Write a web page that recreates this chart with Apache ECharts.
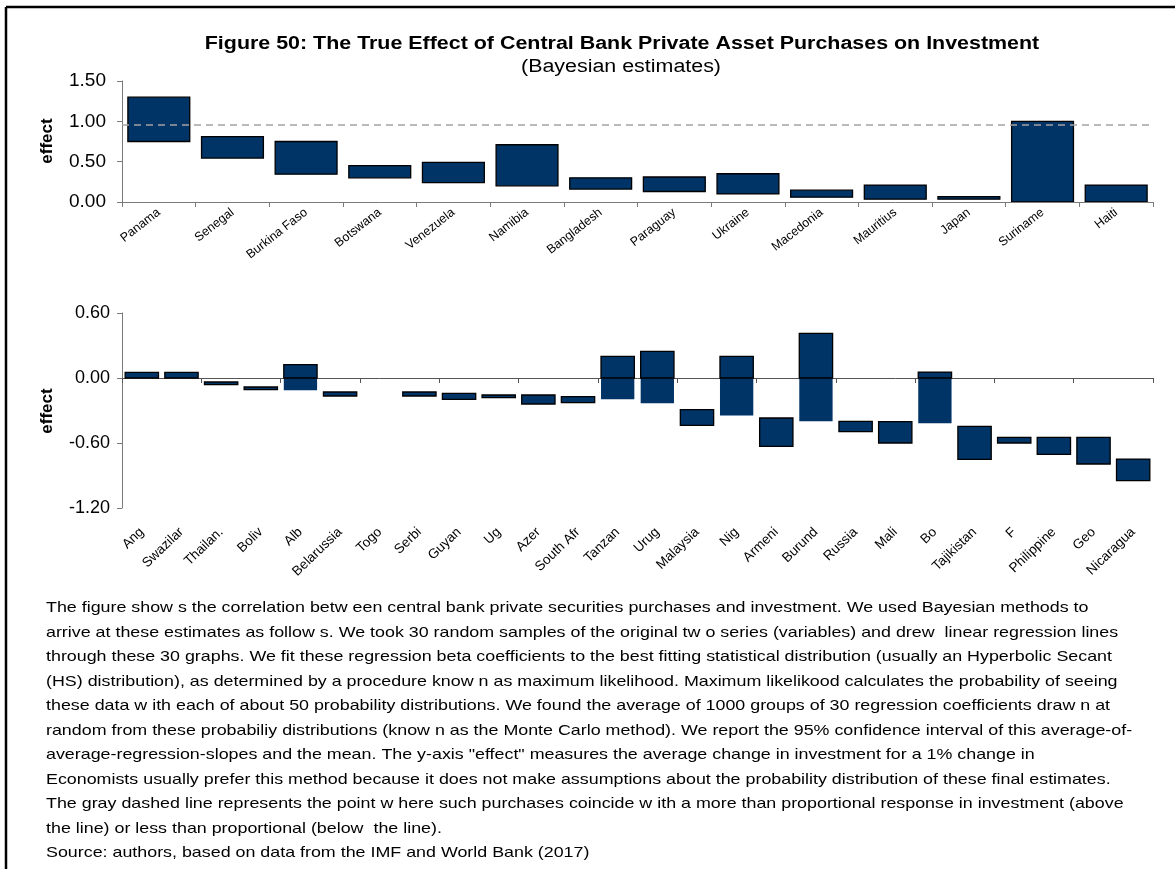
<!DOCTYPE html>
<html>
<head>
<meta charset="utf-8">
<script src="https://cdn.jsdelivr.net/npm/echarts@6/dist/echarts.min.js"></script>
<style>
  html, body { margin: 0; padding: 0; background: #fff; }
  #chart { width: 1175px; height: 869px; }
</style>
</head>
<body>
<div id="chart"></div>
<script>
// Upper panel: 95% interval (low, high) of the effect per country
const topCountries = ['Panama', 'Senegal', 'Burkina Faso', 'Botswana', 'Venezuela', 'Namibia', 'Bangladesh',
  'Paraguay', 'Ukraine', 'Macedonia', 'Mauritius', 'Japan', 'Suriname', 'Haiti'];
const topLow  = [0.75, 0.545, 0.345, 0.30, 0.24, 0.20, 0.16, 0.13, 0.10, 0.06, 0.035, 0.035, 0.00, 0.00];
const topHigh = [1.30, 0.81, 0.75, 0.45, 0.49, 0.71, 0.30, 0.31, 0.35, 0.146, 0.21, 0.067, 1.00, 0.21];
const topTicks = [0, 0.5, 1.0, 1.5];

// Lower panel
const bottomCountries = ['Ang', 'Swazilar', 'Thailan.', 'Boliv', 'Alb', 'Belarussia', 'Togo', 'Serbi', 'Guyan',
  'Ug', 'Azer', 'South Afr', 'Tanzan', 'Urug', 'Malaysia', 'Nig', 'Armeni', 'Burund', 'Russia', 'Mali', 'Bo',
  'Tajikistan', 'F', 'Philippine', 'Geo', 'Nicaragua'];
const bottomLow  = [0, 0, -0.062, -0.108, -0.114, -0.166, null, -0.166, -0.197, -0.182, -0.240, -0.228, -0.197,
  -0.234, -0.437, -0.345, -0.631, -0.40, -0.495, -0.60, -0.418, -0.751, -0.60, -0.705, -0.794, -0.948];
const bottomHigh = [0.052, 0.052, -0.037, -0.083, 0.123, -0.129, null, -0.129, -0.142, -0.157, -0.157, -0.172, 0.20,
  0.246, -0.292, 0.20, -0.369, 0.412, -0.40, -0.403, 0.055, -0.446, -0.548, -0.548, -0.548, -0.748];
const bottomTicks = [-1.2, -0.6, 0, 0.6];

// Proportional-response reference level
const proportionalLine = 0.96;

const titleText = 'Figure 50: The True Effect of Central Bank Private Asset Purchases on Investment';
const subtitleText = '(Bayesian estimates)';
const noteLines = [
  'The figure show s the correlation betw een central bank private securities purchases and investment. We used Bayesian methods to',
  'arrive at these estimates as follow s. We took 30 random samples of the original tw o series (variables) and drew  linear regression lines',
  'through these 30 graphs. We fit these regression beta coefficients to the best fitting statistical distribution (usually an Hyperbolic Secant',
  '(HS) distribution), as determined by a procedure know n as maximum likelihood. Maximum likelikood calculates the probability of seeing',
  'these data w ith each of about 50 probability distributions. We found the average of 1000 groups of 30 regression coefficients draw n at',
  'random from these probabiliy distributions (know n as the Monte Carlo method). We report the 95% confidence interval of this average-of-',
  'average-regression-slopes and the mean. The y-axis "effect" measures the average change in investment for a 1% change in',
  'Economists usually prefer this method because it does not make assumptions about the probability distribution of these final estimates.',
  'The gray dashed line represents the point w here such purchases coincide w ith a more than proportional response in investment (above',
  'the line) or less than proportional (below  the line).',
  'Source: authors, based on data from the IMF and World Bank (2017)'
];

const FONT = '"Liberation Sans", Arial, sans-serif';
const BAR = '#003366';
const WIDE = 1.19;   // the figure's lettering is set slightly wide

// Floating bars: the part above zero is outlined, the part below zero is plain fill
function renderRange(params, api) {
  const i = api.value(0), lo = api.value(1), hi = api.value(2);
  const band = api.size([1, 0])[0];
  const w = band * 0.84;
  const cx = api.coord([i, 0])[0];
  const rect = (a, b, outlined) => {
    const pTop = api.coord([i, b]);
    const pBot = api.coord([i, a]);
    return {
      type: 'rect',
      shape: { x: cx - w / 2, y: pTop[1], width: w, height: Math.max(pBot[1] - pTop[1], 0.5) },
      style: { fill: BAR, stroke: outlined ? '#000' : null, lineWidth: outlined ? 1.3 : 0 }
    };
  };
  const children = [];
  if (lo < 0 && hi > 0) {
    children.push(rect(lo, 0, false));
    children.push(rect(0, hi, true));
  } else {
    children.push(rect(lo, hi, true));
  }
  return { type: 'group', children };
}

function rangeData(lows, highs) {
  const out = [];
  lows.forEach((lo, i) => { if (lo !== null && highs[i] !== null) out.push([i, lo, highs[i]]); });
  return out;
}

const valueAxisBase = {
  type: 'value',
  splitLine: { show: false },
  axisLine: { show: true, lineStyle: { color: '#7a7a7a', width: 1 } },
  axisTick: { show: true, length: 5, lineStyle: { color: '#7a7a7a' } },
  axisLabel: { color: '#000', fontFamily: FONT, fontSize: 18, formatter: v => v.toFixed(2) }
};

const chart = echarts.init(document.getElementById('chart'), null, { renderer: 'canvas' });

const graphics = [
  // frame edges
  { type: 'line', shape: { x1: 6, y1: 7, x2: 1175, y2: 7 }, style: { stroke: '#000', lineWidth: 2.5 } },
  { type: 'line', shape: { x1: 6, y1: 7, x2: 6, y2: 869 }, style: { stroke: '#000', lineWidth: 2.5 } },
  { type: 'text', x: 622, y: 44, scaleX: WIDE, style: { text: titleText, font: 'bold 18px ' + FONT, fill: '#000', align: 'center', verticalAlign: 'middle' } },
  { type: 'text', x: 621, y: 67, scaleX: WIDE, style: { text: subtitleText, font: '18px ' + FONT, fill: '#000', align: 'center', verticalAlign: 'middle' } },
  { type: 'text', x: 47, y: 141, rotation: Math.PI / 2, style: { text: 'effect', font: 'bold 17px ' + FONT, fill: '#000', align: 'center', verticalAlign: 'middle' } },
  { type: 'text', x: 47, y: 411, rotation: Math.PI / 2, style: { text: 'effect', font: 'bold 17px ' + FONT, fill: '#000', align: 'center', verticalAlign: 'middle' } }
];
noteLines.forEach((line, k) => {
  graphics.push({
    type: 'text', x: 46, y: 608 + k * 24.5, scaleX: WIDE,
    style: { text: line, font: '15px ' + FONT, fill: '#000', align: 'left', verticalAlign: 'middle' }
  });
});

chart.setOption({
  animation: false,
  backgroundColor: '#fff',
  grid: [
    { left: 122, top: 81, width: 1031, height: 121 },
    { left: 122, top: 313, width: 1031, height: 195 }
  ],
  xAxis: [
    {
      type: 'category', gridIndex: 0, data: topCountries,
      axisLine: { lineStyle: { color: '#7a7a7a' } },
      axisTick: { show: true, length: 5, lineStyle: { color: '#7a7a7a' } },
      axisLabel: { rotate: 38, margin: 9, interval: 0, color: '#000', fontFamily: FONT, fontSize: 12.5 }
    },
    {
      type: 'category', gridIndex: 1, data: bottomCountries,
      axisLine: { onZero: true, lineStyle: { color: '#555' } },
      axisTick: { show: true, length: 5, lineStyle: { color: '#555' } },
      axisLabel: { show: false }
    },
    {
      type: 'category', gridIndex: 1, data: bottomCountries, position: 'bottom',
      axisLine: { show: false, onZero: false },
      axisTick: { show: false },
      axisLabel: { rotate: 44, margin: 22, interval: 0, color: '#000', fontFamily: FONT, fontSize: 13.5 }
    }
  ],
  yAxis: [
    Object.assign({}, valueAxisBase, { gridIndex: 0, min: topTicks[0], max: topTicks[topTicks.length - 1], interval: 0.5,
      axisLabel: Object.assign({}, valueAxisBase.axisLabel, { margin: 16, fontSize: 19 }) }),
    Object.assign({}, valueAxisBase, { gridIndex: 1, min: bottomTicks[0], max: bottomTicks[bottomTicks.length - 1], interval: 0.6,
      axisLabel: Object.assign({}, valueAxisBase.axisLabel, { margin: 12 }) })
  ],
  series: [
    {
      type: 'custom', xAxisIndex: 0, yAxisIndex: 0,
      renderItem: renderRange, data: rangeData(topLow, topHigh),
      encode: { x: 0, y: [1, 2] }, clip: true, z: 3,
      markLine: {
        silent: true, symbol: 'none', z: 5,
        label: { show: false },
        lineStyle: { color: '#a3a3a3', type: [7, 5], width: 1.5 },
        data: [{ yAxis: proportionalLine }]
      }
    },
    {
      type: 'custom', xAxisIndex: 1, yAxisIndex: 1,
      renderItem: renderRange, data: rangeData(bottomLow, bottomHigh),
      encode: { x: 0, y: [1, 2] }, clip: true, z: 3
    }
  ],
  graphic: graphics
});
</script>
</body>
</html>
